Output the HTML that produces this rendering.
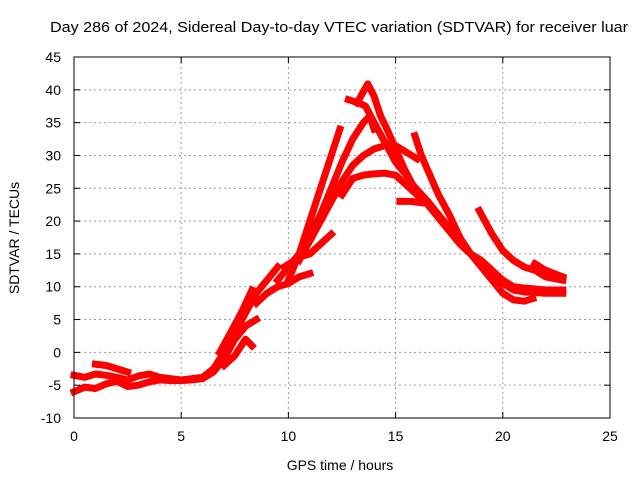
<!DOCTYPE html>
<html><head><meta charset="utf-8"><style>
body{margin:0;background:#fff}
svg{display:block;font-family:"Liberation Sans",Arial,sans-serif}
</style></head><body>
<svg id="c" width="640" height="480">
<rect width="640" height="480" fill="#fff"/>
<text x="50" y="32" font-size="15" textLength="578" lengthAdjust="spacingAndGlyphs">Day 286 of 2024, Sidereal Day-to-day VTEC variation (SDTVAR) for receiver luar</text>
<text x="340" y="470" font-size="14" text-anchor="middle">GPS time / hours</text>
<text transform="translate(19,238) rotate(-90)" font-size="14" text-anchor="middle">SDTVAR / TECUs</text>
<g id="grid"></g><g id="series"></g>
<rect x="74" y="57" width="536" height="361" fill="none" stroke="#000" stroke-width="1"/>
</svg>
<script>
const xTicks=[0,5,10,15,20,25];
const yTicks=[-10,-5,0,5,10,15,20,25,30,35,40,45];
const track1=[[0,-3.5],[0.5,-3.8],[1,-3.3],[1.5,-3.5],[2,-3.8],[2.5,-4.2],[3,-3.6],[3.5,-3.3],[4,-3.8],[5,-4.2],[6,-3.8],[6.5,-2.5],[7,0],[7.5,3],[8,6],[8.5,9],[9,11],[9.5,13]];
const track2=[[0,-6],[0.5,-5.3],[1,-5.5],[1.5,-4.8],[2,-4.4],[2.5,-5.2],[3,-5],[3.5,-4.5],[4,-4.2],[4.5,-4.3],[5,-4.3],[5.5,-4.2],[6,-4],[6.5,-3],[7,-1],[7.5,2],[8,4],[8.5,5]];
const track3=[[1,-1.8],[1.5,-2],[2,-2.5],[2.5,-3]];
const track4=[[7,-2],[7.5,-0.5],[8,2],[8.3,1]];
const track5=[[6.8,0],[7.3,3],[7.8,6],[8.3,9.5]];
const track6=[[10,11],[10.5,15],[11,20],[11.5,25],[12,30],[12.4,34]];
const track7=[[8.5,7.5],[9,9],[9.5,10],[10,10.5],[10.5,11.5],[11,12]];
const track8=[[9.8,13],[10.5,14.5],[11,15],[11.5,16.5],[12,18]];
const track9=[[9.5,11],[10,13],[10.5,15],[11,18],[11.5,21],[12,25],[12.5,29],[13,32.5],[13.5,35],[13.8,36],[14,34]];
const track10=[[10.5,14],[11,17],[11.5,20],[12,23],[12.5,26],[13,28.5],[13.5,30],[14,31],[14.5,31.5],[15,31.5],[15.5,30.5],[16,29.5]];
const track11=[[12.5,24],[13,26.5],[13.5,27],[14,27.2],[14.5,27.3],[15,27],[15.5,25.5],[16,24],[16.5,22.5],[17,20.5],[17.5,18.5],[18,16.5],[18.5,15],[19,13.5],[19.5,12],[20,10.5],[20.5,9.5],[21,9.2],[22,9],[22.8,9]];
const track12=[[13.2,38],[13.7,40.9],[14,39],[14.3,36],[14.6,34],[15,31],[15.4,28],[15.8,25.5],[16.5,23],[17,21],[17.5,19],[18,17],[18.5,15],[19,13],[19.5,11],[20,9],[20.5,8],[21,7.8],[21.4,8.2]];
const track13=[[12.8,38.5],[13.3,38],[13.6,37.5],[14,35],[14.5,32],[15,29],[15.5,27]];
const track14=[[15.9,33],[16.2,30],[16.6,27],[17,24],[17.5,21],[18,17.5],[18.5,15],[19,14],[19.5,12.5],[20,11],[20.5,10],[21,9.8],[22,9.5],[22.8,9.5]];
const track15=[[15.2,23],[15.7,23],[16.2,22.8]];
const track16=[[18.9,21.6],[19.5,18],[20,15.5],[20.5,14],[21,13],[21.5,12.5],[22,11.5],[22.8,11]];
const track17=[[21.5,13.5],[22,12.5],[22.8,11.5]];
const tracks=[track1,track2,track3,track4,track5,track6,track7,track8,track9,track10,track11,track12,track13,track14,track15,track16,track17];
const NS='http://www.w3.org/2000/svg';
const X=t=>74+t*(536/25);
const Y=v=>418-(v+10)*(361/55);
const grid=document.getElementById('grid');
function mk(tag,attrs,parent){const e=document.createElementNS(NS,tag);for(const k in attrs)e.setAttribute(k,attrs[k]);parent.appendChild(e);return e;}
xTicks.forEach(t=>{
  const x=X(t);
  if(t>0&&t<25){const l=mk('line',{x1:x,x2:x,y1:57,y2:418,stroke:'#999','stroke-dasharray':'2,3'},grid);
  
  }
  mk('line',{x1:x,x2:x,y1:418,y2:412,stroke:'#000'},grid);
  mk('line',{x1:x,x2:x,y1:57,y2:63,stroke:'#000'},grid);
  const tx=mk('text',{x:x,y:441,'font-size':14,'text-anchor':'middle'},grid);
  tx.textContent=t;
  
  
});
yTicks.forEach(v=>{
  const y=Y(v);
  if(v>-10&&v<45){const l=mk('line',{x1:74,x2:610,y1:y,y2:y,stroke:'#999','stroke-dasharray':'2,3'},grid);
  
  }
  mk('line',{x1:74,x2:80,y1:y,y2:y,stroke:'#000'},grid);
  mk('line',{x1:604,x2:610,y1:y,y2:y,stroke:'#000'},grid);
  const tx=mk('text',{x:61,y:y+5,'font-size':14,'text-anchor':'end'},grid);
  tx.textContent=v;
  
  
});
const sg=document.getElementById('series');
tracks.forEach((tr,i)=>{
  const p=mk('polyline',{points:tr.map(d=>X(d[0])+','+Y(d[1])).join(' '),fill:'none',stroke:'#f00','stroke-width':7,'stroke-linejoin':'round','stroke-linecap':'square'},sg);
  
  
});
</script>
</body></html>
